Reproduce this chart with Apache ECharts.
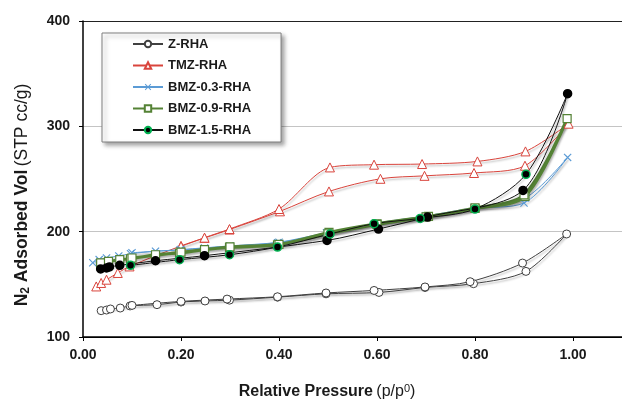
<!DOCTYPE html>
<html>
<head>
<meta charset="utf-8">
<script src="https://cdn.jsdelivr.net/npm/echarts@6/dist/echarts.min.js"></script>
<style>
  html, body { margin: 0; padding: 0; background: #fff; }
  #chart { width: 622px; height: 401px; }
</style>
</head>
<body>
<div id="chart"></div>
<script>
// N2 adsorption / desorption isotherms (relative pressure p/p0 vs adsorbed volume, STP cc/g)

const seriesNames = ['Z-RHA', 'TMZ-RHA', 'BMZ-0.3-RHA', 'BMZ-0.9-RHA', 'BMZ-1.5-RHA'];

// Z-RHA
const zAdsP = [0.037, 0.048, 0.056, 0.076, 0.096, 0.151, 0.200, 0.249, 0.299, 0.397, 0.496, 0.604, 0.698, 0.797, 0.904, 0.987];
const zAdsV = [125.0, 125.6, 126.6, 127.5, 129.5, 130.7, 133.2, 134.2, 135.0, 137.8, 141.0, 142.3, 147.0, 150.6, 162.3, 197.8];
const zDesP = [0.897, 0.790, 0.698, 0.594, 0.496, 0.397, 0.294, 0.200, 0.100];
const zDesV = [170.2, 152.5, 147.5, 144.2, 141.8, 138.2, 136.0, 133.8, 130.0];

// TMZ-RHA
const tAdsP = [0.027, 0.037, 0.048, 0.071, 0.095, 0.200, 0.248, 0.299, 0.402, 0.502, 0.607, 0.697, 0.798, 0.902, 0.991];
const tAdsV = [148.0, 151.3, 154.4, 160.8, 167.0, 186.5, 194.0, 202.0, 219.3, 238.2, 250.2, 253.0, 255.7, 262.6, 302.5];
const tDesP = [0.903, 0.805, 0.692, 0.594, 0.504, 0.400, 0.299, 0.248, 0.200];
const tDesV = [276.2, 266.7, 264.2, 263.6, 261.0, 221.5, 202.5, 194.3, 186.0];

// BMZ-0.3-RHA
const b3AdsP = [0.020, 0.033, 0.048, 0.073, 0.097, 0.148, 0.198, 0.248, 0.299, 0.397, 0.500, 0.600, 0.700, 0.800, 0.900, 0.989];
const b3AdsV = [170.5, 173.5, 175.0, 177.0, 179.0, 181.5, 182.5, 184.5, 186.0, 189.5, 198.0, 207.0, 214.0, 222.0, 227.2, 270.5];
const b3DesP = [0.903, 0.800, 0.700, 0.597, 0.497, 0.400, 0.300, 0.200, 0.100];
const b3DesV = [232.0, 223.0, 215.0, 208.0, 199.0, 190.0, 186.5, 183.0, 180.0];

// BMZ-0.9-RHA
const b9AdsP = [0.036, 0.052, 0.075, 0.097, 0.148, 0.197, 0.248, 0.299, 0.397, 0.502, 0.600, 0.705, 0.800, 0.902, 0.988];
const b9AdsV = [170.3, 171.8, 173.4, 174.3, 178.1, 179.7, 182.9, 185.1, 187.6, 199.3, 207.5, 214.5, 222.0, 233.5, 307.3];
const b9DesP = [0.900, 0.800, 0.700, 0.600, 0.500, 0.400, 0.300, 0.200, 0.100];
const b9DesV = [235.0, 222.5, 214.0, 207.0, 198.0, 188.0, 185.5, 180.5, 175.0];

// BMZ-1.5-RHA
const b15AdsP = [0.036, 0.048, 0.054, 0.075, 0.148, 0.248, 0.498, 0.603, 0.703, 0.898, 0.989];
const b15AdsV = [164.6, 165.5, 166.5, 168.0, 172.4, 177.2, 191.7, 202.5, 213.9, 239.2, 331.0];
const b15DesP = [0.904, 0.800, 0.688, 0.594, 0.504, 0.397, 0.299, 0.197, 0.097];
const b15DesV = [254.4, 221.5, 212.6, 207.6, 197.8, 185.4, 178.1, 173.4, 168.0];

// axis ticks
const xTicks = [0, 0.2, 0.4, 0.6, 0.8, 1.0];
const yTicks = [100, 200, 300, 400];

const FONT = "'Liberation Sans', Arial, sans-serif";

function pairs(p, v) { return p.map((x, i) => [x, v[i]]); }
// one polyline per sample: adsorption branch followed by desorption branch
function loop(ap, av, dp, dv) { return pairs(ap, av).concat(pairs(dp, dv)); }

const crossPath = 'path://M0,1 L1,0 L5,4 L9,0 L10,1 L6,5 L10,9 L9,10 L5,6 L1,10 L0,9 L4,5 Z';
const lineShadow = { shadowColor: 'rgba(0,0,0,0.3)', shadowBlur: 2, shadowOffsetX: 1, shadowOffsetY: 2 };

// BMZ-1.5: adsorption dots plain black, desorption dots ringed in green
const b15Data = pairs(b15AdsP, b15AdsV).map(d => ({ value: d, itemStyle: { borderColor: '#000' } }))
  .concat(pairs(b15DesP, b15DesV).map(d => ({ value: d })));

const chart = echarts.init(document.getElementById('chart'), null, { renderer: 'canvas' });

chart.setOption({
  animation: false,
  backgroundColor: '#fff',
  grid: { left: 83, top: 21, width: 540, height: 316, containLabel: false },
  xAxis: {
    type: 'value', min: 0, max: 1.1, interval: 0.2,
    axisLine: { show: true, onZero: false, lineStyle: { color: '#000', width: 1.5 } },
    axisTick: { show: true, length: 4, lineStyle: { color: '#000', width: 1 } },
    splitLine: { show: false },
    axisLabel: {
      showMaxLabel: false, margin: 11,
      fontFamily: FONT, fontWeight: 'bold', fontSize: 14, color: '#1a1a1a',
      formatter: v => xTicks.some(t => Math.abs(t - v) < 1e-6) ? v.toFixed(2) : ''
    }
  },
  yAxis: {
    type: 'value', min: 100, max: 400, interval: 100,
    axisLine: { show: true, lineStyle: { color: '#000', width: 1.5 } },
    axisTick: { show: true, length: 4, lineStyle: { color: '#000', width: 1 } },
    splitLine: { show: true, lineStyle: { color: ['#000', '#c4c4c4', '#c4c4c4', '#222'], width: 1.2 } },
    axisLabel: {
      margin: 13,
      fontFamily: FONT, fontWeight: 'bold', fontSize: 14, color: '#1a1a1a',
      formatter: v => yTicks.includes(v) ? String(v) : ''
    }
  },
  legend: {
    orient: 'vertical', left: 102, top: 33,
    padding: [4, 30, 5, 30],
    itemWidth: 30, itemHeight: 8, itemGap: 7.5,
    backgroundColor: '#fff', borderColor: '#7f7f7f', borderWidth: 1,
    shadowColor: 'rgba(0,0,0,0.35)', shadowBlur: 4, shadowOffsetX: 3, shadowOffsetY: 3,
    textStyle: { fontFamily: FONT, fontWeight: 'bold', fontSize: 13, lineHeight: 14, color: '#1a1a1a' },
    data: seriesNames
  },
  graphic: [
    {
      type: 'text', x: 327, y: 383,
      style: {
        text: '{b|Relative Pressure} {n|(p/p}{s|0}{n|)}',
        align: 'center',
        rich: {
          b: { fontFamily: FONT, fontWeight: 'bold', fontSize: 16, fill: '#1a1a1a', lineHeight: 18 },
          n: { fontFamily: FONT, fontSize: 16, fill: '#1a1a1a', lineHeight: 18 },
          s: { fontFamily: FONT, fontSize: 11, fill: '#1a1a1a', verticalAlign: 'top', lineHeight: 12 }
        }
      }
    },
    {
      type: 'text', rotation: Math.PI / 2, x: 12, y: 195,
      style: {
        text: '{b|N}{s|2}{b| Adsorbed Vol} {n|(STP cc/g)}',
        align: 'center',
        rich: {
          b: { fontFamily: FONT, fontWeight: 'bold', fontSize: 17.5, fill: '#1a1a1a', lineHeight: 20 },
          n: { fontFamily: FONT, fontSize: 17.5, fill: '#1a1a1a', lineHeight: 20 },
          s: { fontFamily: FONT, fontWeight: 'bold', fontSize: 12, fill: '#1a1a1a', verticalAlign: 'bottom', lineHeight: 13 }
        }
      }
    }
  ],
  series: [
    {
      name: 'Z-RHA', type: 'line', smooth: 0.3,
      data: loop(zAdsP, zAdsV, zDesP, zDesV),
      symbol: 'circle', symbolSize: 8,
      lineStyle: Object.assign({ color: '#404040', width: 1 }, lineShadow),
      itemStyle: { color: '#fff', borderColor: '#404040', borderWidth: 1 }
    },
    {
      name: 'TMZ-RHA', type: 'line', smooth: 0.3,
      data: loop(tAdsP, tAdsV, tDesP, tDesV),
      symbol: 'triangle', symbolSize: 9,
      lineStyle: Object.assign({ color: '#d9443c', width: 1 }, lineShadow),
      itemStyle: { color: '#fff', borderColor: '#d9443c', borderWidth: 1 }
    },
    {
      name: 'BMZ-0.3-RHA', type: 'line', smooth: 0.3,
      data: loop(b3AdsP, b3AdsV, b3DesP, b3DesV),
      symbol: crossPath, symbolSize: 8,
      lineStyle: Object.assign({ color: '#5b9bd5', width: 1 }, lineShadow),
      itemStyle: { color: '#5b9bd5', borderWidth: 0 }
    },
    {
      name: 'BMZ-0.9-RHA', type: 'line', smooth: 0.3,
      data: loop(b9AdsP, b9AdsV, b9DesP, b9DesV),
      symbol: 'rect', symbolSize: 8,
      lineStyle: Object.assign({ color: '#548235', width: 3 }, lineShadow),
      itemStyle: { color: '#fff', borderColor: '#548235', borderWidth: 1.2 }
    },
    {
      name: 'BMZ-1.5-RHA', type: 'line', smooth: 0.3,
      data: b15Data,
      symbol: 'circle', symbolSize: 8,
      lineStyle: Object.assign({ color: '#111', width: 1 }, lineShadow),
      itemStyle: { color: '#000', borderColor: '#00b050', borderWidth: 1.5 }
    }
  ]
});
</script>
</body>
</html>
